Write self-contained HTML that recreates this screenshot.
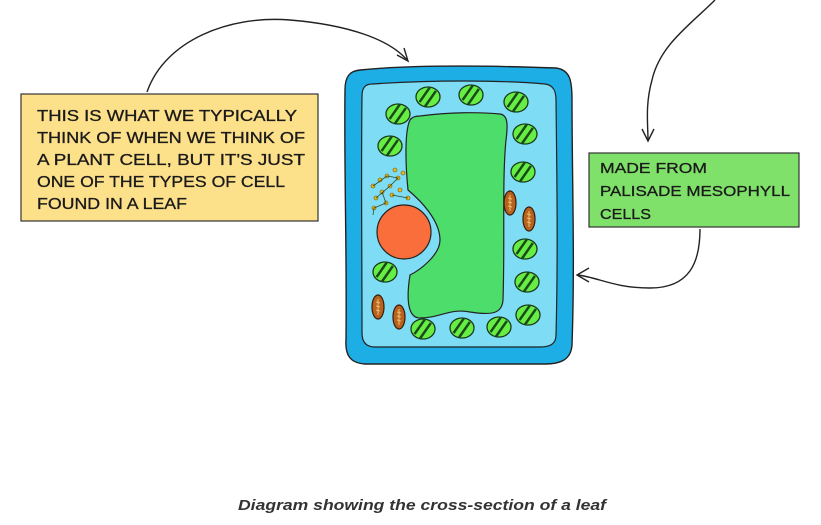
<!DOCTYPE html>
<html><head><meta charset="utf-8"><style>
html,body{margin:0;padding:0;background:#fff;}
svg{display:block}
</style></head><body>
<svg width="821" height="525" viewBox="0 0 821 525" xmlns="http://www.w3.org/2000/svg">
<defs>
<g id="ch"><ellipse cx="0" cy="0" rx="12" ry="10" fill="#66ee44" stroke="#1a3a1a" stroke-width="1.3"/><g transform="rotate(35)"><line x1="-4" y1="-9" x2="-4" y2="9" stroke="#1a4a1a" stroke-width="2.5"/><line x1="3" y1="-9.5" x2="3" y2="9.5" stroke="#1a4a1a" stroke-width="2.5"/></g></g>
<g id="mi"><ellipse cx="0" cy="0" rx="6" ry="12" fill="#b8621f" stroke="#3a1a0a" stroke-width="1.2"/><path d="M0,-8 L0,8 M-2,-5 L2,-4 M-2,-1 L2,0 M-2,3 L2,4" stroke="#f0c070" stroke-width="1"/></g>
</defs>
<path d="M147,92 C165,40 230,15 290,20 C350,25 390,40 407,60" fill="none" stroke="#222" stroke-width="1.4"/>
<path d="M397,55 L408,61 L404,48" fill="none" stroke="#222" stroke-width="1.4"/>
<path d="M715,0 C690,25 660,45 652,80 C645,105 648,125 648,140" fill="none" stroke="#222" stroke-width="1.4"/>
<path d="M642,129 L648,141 L654,129" fill="none" stroke="#222" stroke-width="1.4"/>
<path d="M700,229 C700,262 690,288 650,288 C615,288 600,278 578,275" fill="none" stroke="#222" stroke-width="1.4"/>
<path d="M589,268 L577,275 L589,282" fill="none" stroke="#222" stroke-width="1.4"/>
<rect x="21" y="94" width="297" height="127" fill="#fde08a" stroke="#333" stroke-width="1.2"/>
<g font-family="Liberation Sans, sans-serif" font-size="16" fill="#1a1a1a" stroke="#1a1a1a" stroke-width="0.3">
<text x="37" y="121" textLength="260" lengthAdjust="spacingAndGlyphs">THIS IS  WHAT  WE  TYPICALLY</text>
<text x="37" y="143" textLength="268" lengthAdjust="spacingAndGlyphs">THINK  OF  WHEN  WE  THINK  OF</text>
<text x="37" y="165" textLength="268" lengthAdjust="spacingAndGlyphs">A  PLANT  CELL,  BUT  IT'S  JUST</text>
<text x="37" y="187" textLength="248" lengthAdjust="spacingAndGlyphs">ONE  OF  THE  TYPES  OF  CELL</text>
<text x="37" y="209" textLength="150" lengthAdjust="spacingAndGlyphs">FOUND  IN  A  LEAF</text>
</g>
<rect x="589" y="153" width="210" height="74" fill="#7fe06a" stroke="#333" stroke-width="1.2"/>
<g font-family="Liberation Sans, sans-serif" font-size="15" fill="#1a1a1a" stroke="#1a1a1a" stroke-width="0.3">
<text x="600" y="173" textLength="107" lengthAdjust="spacingAndGlyphs">MADE  FROM</text>
<text x="600" y="196" textLength="190" lengthAdjust="spacingAndGlyphs">PALISADE  MESOPHYLL</text>
<text x="600" y="219" textLength="51" lengthAdjust="spacingAndGlyphs">CELLS</text>
</g>
<path d="M360,70 C420,64 500,66 556,68 C570,70 572,80 572,100 C572,180 575,260 572,345 C571,360 560,364 545,364 L365,364 C350,363 345,355 346,340 C347,250 344,170 345,90 C345,76 350,71 360,70 Z" fill="#1eaee6" stroke="#222" stroke-width="1.4"/>
<path d="M372,84 C430,80 500,80 545,84 C554,85 556,92 556,100 C557,180 558,260 556,335 C556,344 550,347 540,347 L375,347 C366,347 362,342 362,333 C362,250 361,170 362,96 C362,88 365,84 372,84 Z" fill="#7fdcf5" stroke="#222" stroke-width="1.2"/>
<path d="M420,116 C450,112 480,112 500,114 C508,115 508,125 506,140 C502,180 505,240 503,300 C502,312 495,316 470,312 C450,308 440,318 420,318 C408,318 406,300 410,275 C420,270 440,255 440,240 C440,220 420,200 408,190 C405,160 405,130 410,120 C412,117 416,116 420,116 Z" fill="#4ddd6a" stroke="#222" stroke-width="1.2"/>
<circle cx="404" cy="232" r="27" fill="#fa6e3c" stroke="#222" stroke-width="1.2"/>
<g fill="#e8b820" stroke="#6a5a10" stroke-width="0.6">
<circle cx="373" cy="186" r="2"/><circle cx="380" cy="180" r="2"/><circle cx="387" cy="176" r="2"/><circle cx="395" cy="170" r="2"/><circle cx="398" cy="178" r="2"/><circle cx="390" cy="186" r="2"/><circle cx="382" cy="192" r="2"/><circle cx="376" cy="198" r="2"/><circle cx="392" cy="195" r="2"/><circle cx="400" cy="190" r="2"/><circle cx="408" cy="198" r="2"/><circle cx="386" cy="203" r="2"/><circle cx="374" cy="208" r="2"/><circle cx="403" cy="173" r="2"/>
</g>
<path d="M373,186 L387,176 L398,178 L390,186 L376,198 M392,195 L408,198 M382,192 L386,203 L374,208 L373,215" fill="none" stroke="#2a4a2a" stroke-width="0.8"/>
<use href="#ch" x="428" y="97"/><use href="#ch" x="471" y="95"/><use href="#ch" x="516" y="102"/>
<use href="#ch" x="398" y="114"/><use href="#ch" x="390" y="146"/>
<use href="#ch" x="525" y="134"/><use href="#ch" x="523" y="172"/>
<use href="#mi" x="510" y="203"/><use href="#mi" x="529" y="219"/>
<use href="#ch" x="525" y="249"/><use href="#ch" x="527" y="282"/><use href="#ch" x="528" y="315"/>
<use href="#ch" x="499" y="327"/><use href="#ch" x="462" y="328"/><use href="#ch" x="423" y="329"/>
<use href="#ch" x="385" y="272"/><use href="#mi" x="378" y="307"/><use href="#mi" x="399" y="317"/>
<text x="238" y="510" textLength="368" lengthAdjust="spacingAndGlyphs" font-family="Liberation Sans, sans-serif" font-size="15" font-weight="bold" font-style="italic" fill="#333">Diagram showing the cross-section of a leaf</text>
</svg>
</body></html>
